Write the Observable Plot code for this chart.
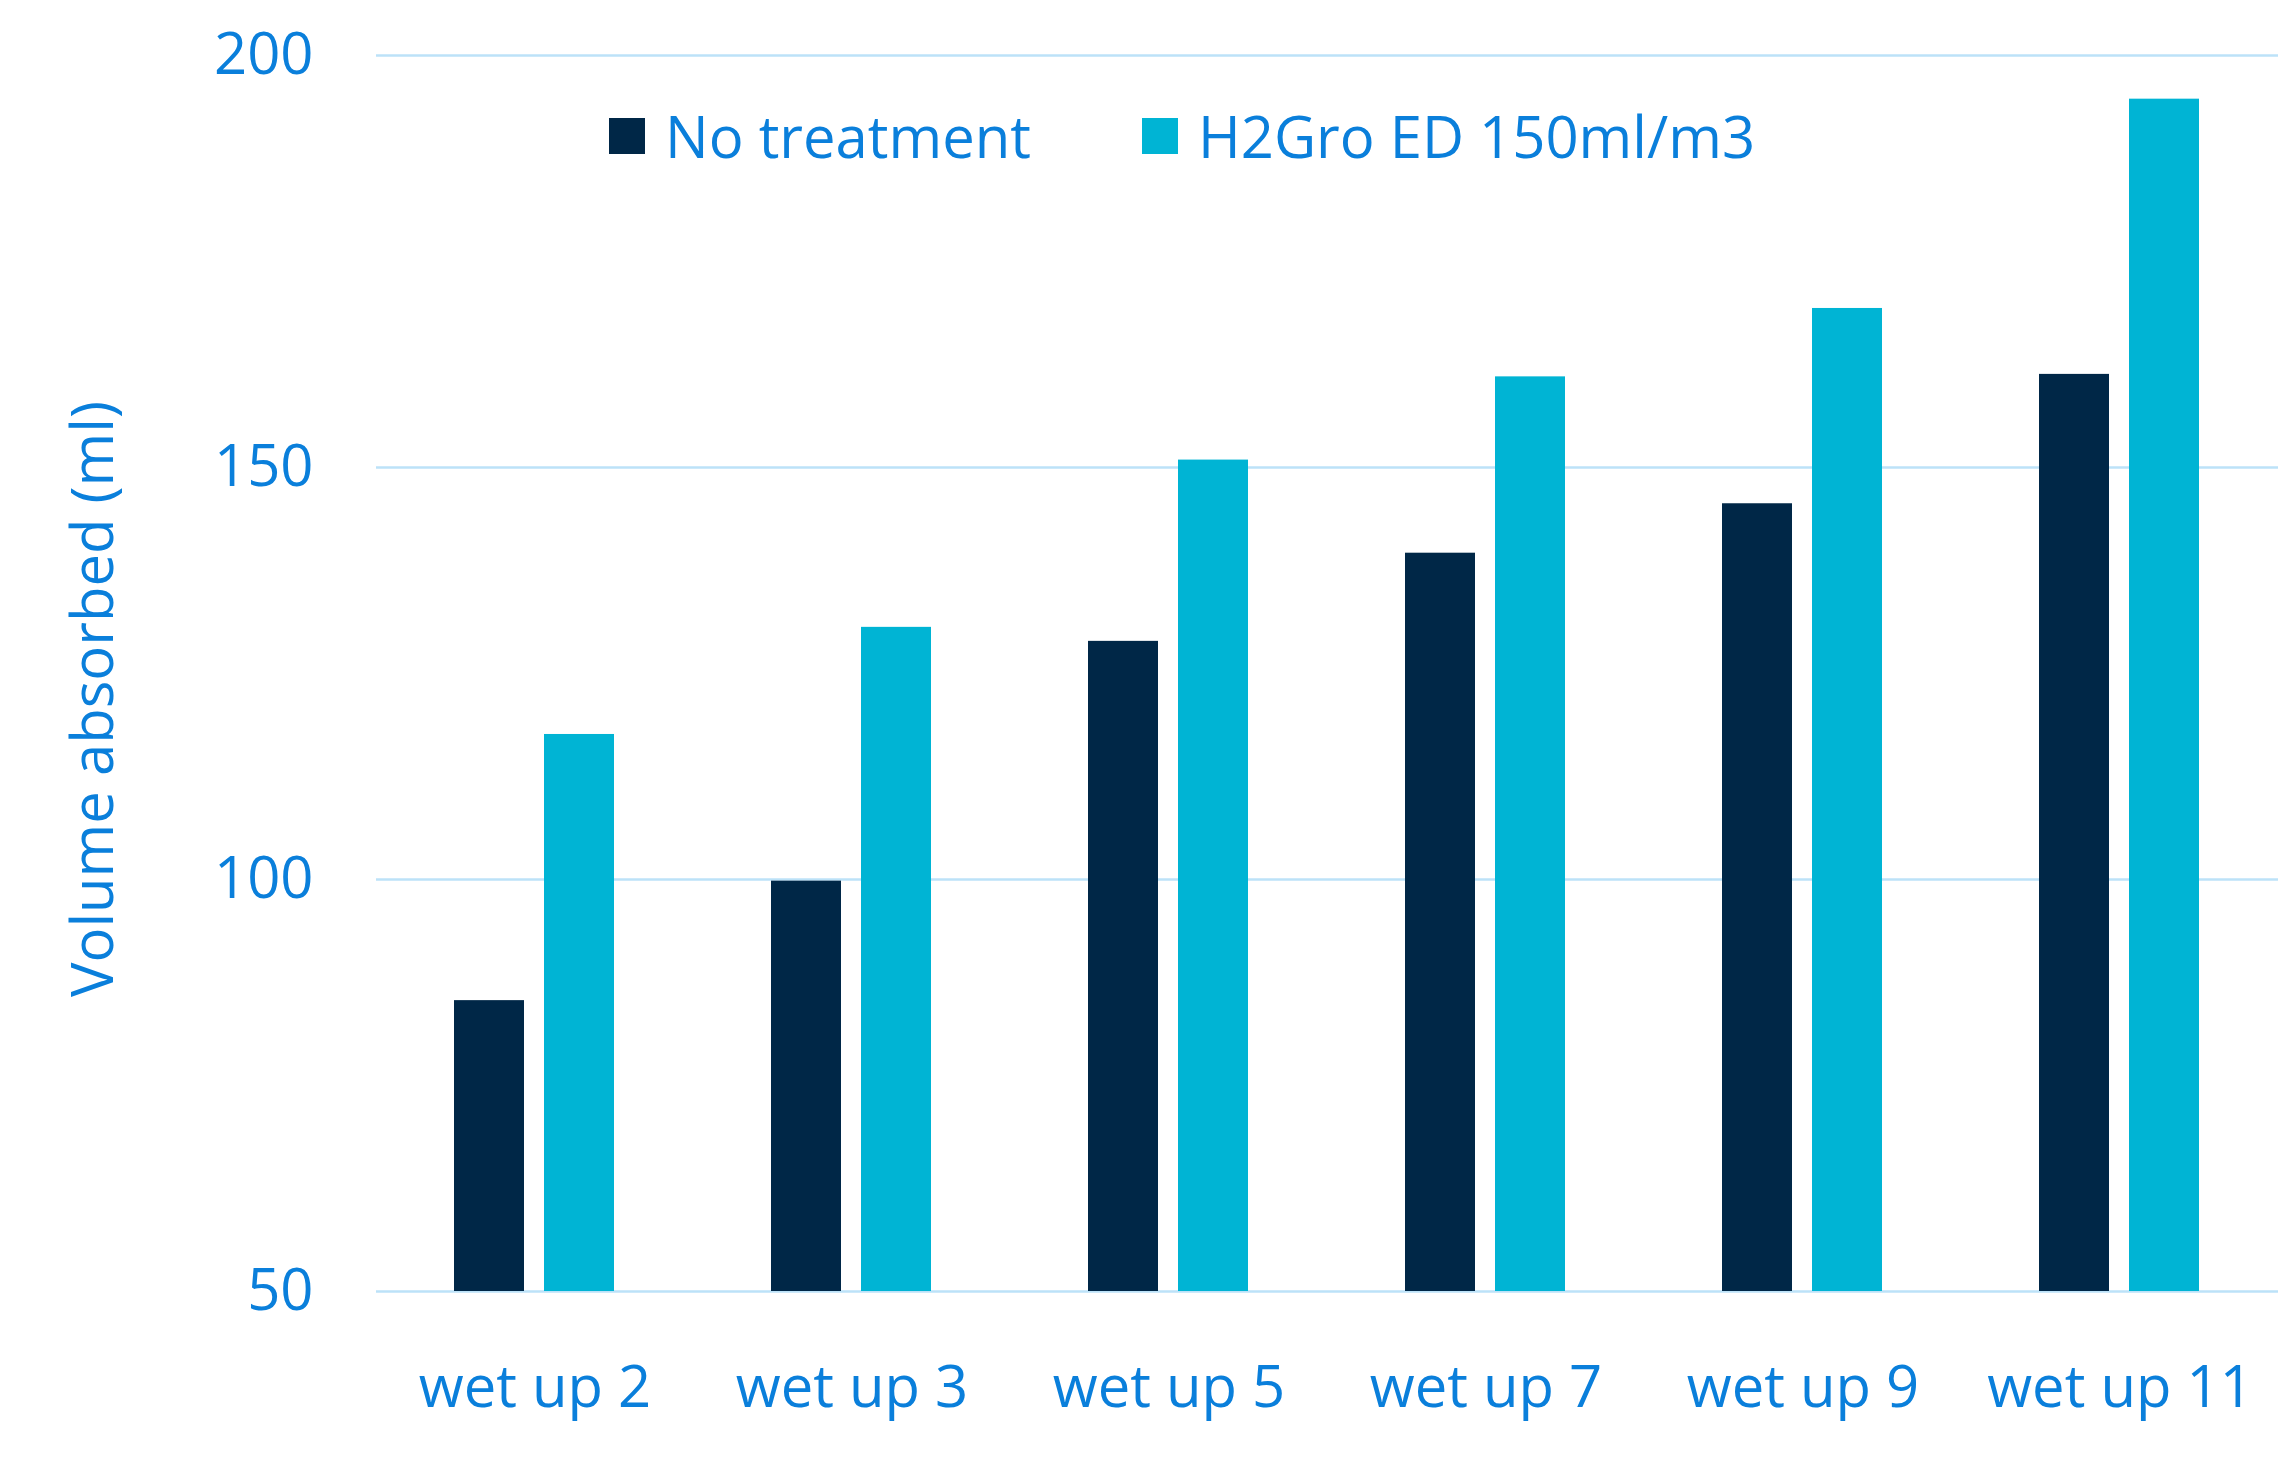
<!DOCTYPE html>
<html>
<head>
<meta charset="utf-8">
<script src="https://cdn.jsdelivr.net/npm/d3@7"></script>
<script src="https://cdn.jsdelivr.net/npm/@observablehq/plot@0.6"></script>
<style>
  html, body { margin: 0; padding: 0; background: #ffffff; }
  #wrap { position: relative; width: 2284px; height: 1475px; font-family: "Open Sans", "Noto Sans", sans-serif; color: #0A7FDB; }
  #legend { position: absolute; left: 609px; top: 100px; display: flex; align-items: center; font-size: 58px; line-height: 72px; white-space: nowrap; }
  .item { display: flex; align-items: center; }
  .sw { width: 36px; height: 36px; display: inline-block; margin-right: 20px; }
  #ytitle { position: absolute; left: 90px; top: 699px; transform: translate(-50%, -50%) rotate(-90deg); font-size: 58px; white-space: nowrap; }
</style>
</head>
<body>
<div id="wrap">
  <div id="chart"></div>
  <div id="legend"></div>
  <div id="ytitle"></div>
</div>
<script>
const categories = ["wet up 2", "wet up 3", "wet up 5", "wet up 7", "wet up 9", "wet up 11"];
const series = ["No treatment", "H2Gro ED 150ml/m3"];
const noTreatment = [85.3, 99.8, 128.9, 139.6, 145.6, 161.3];
const h2gro = [117.6, 130.6, 150.9, 161.0, 169.3, 194.7];
const seriesColors = ["#002747", "#00B4D4"];
const yTicks = [50, 100, 150, 200];
const yTitle = "Volume absorbed (ml)";

const data = [];
categories.forEach((c, i) => {
  data.push({cat: c, series: series[0], value: noTreatment[i]});
  data.push({cat: c, series: series[1], value: h2gro[i]});
});

const chart = Plot.plot({
  width: 2284,
  height: 1475,
  marginLeft: 375,
  marginRight: 6,
  marginTop: 55,
  marginBottom: 184,
  style: {fontFamily: "'Open Sans', 'Noto Sans', sans-serif", fontSize: "58px", color: "#0A7FDB", background: "#ffffff"},
  fx: {domain: categories, paddingInner: 0, paddingOuter: 0, label: null, axis: "bottom", tickSize: 0, tickPadding: 74},
  x: {domain: series, paddingInner: 0.222, paddingOuter: 0.871, axis: null},
  y: {domain: [50, 200], ticks: yTicks, tickSize: 0, tickPadding: 63, label: null},
  color: {domain: series, range: seriesColors},
  marks: [
    Plot.ruleY(yTicks, {stroke: "#BCE2F8", strokeWidth: 2.5}),
    Plot.barY(data, {fx: "cat", x: "series", y1: 50, y2: "value", fill: "series"})
  ]
});
document.getElementById("chart").appendChild(chart);

const legend = document.getElementById("legend");
series.forEach((s, i) => {
  const item = document.createElement("div");
  item.className = "item";
  if (i > 0) item.style.marginLeft = "111px";
  const sw = document.createElement("span");
  sw.className = "sw";
  sw.style.background = seriesColors[i];
  const t = document.createElement("span");
  t.textContent = s;
  item.appendChild(sw);
  item.appendChild(t);
  legend.appendChild(item);
});
document.getElementById("ytitle").textContent = yTitle;
</script>
</body>
</html>
